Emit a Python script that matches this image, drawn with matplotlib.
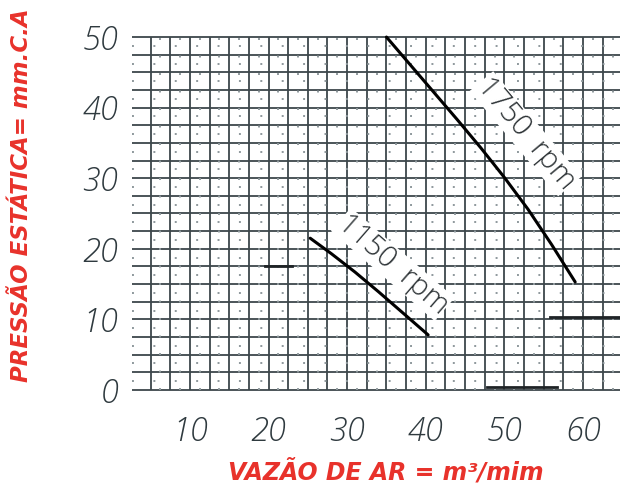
import numpy as np
import matplotlib
matplotlib.use("Agg")
import matplotlib.pyplot as plt
import matplotlib.ticker as tick

# fan curves: static pressure (mm.C.A) vs air flow (m3/min)
vazao_1750 = [35.0, 38.0, 41.0, 44.0, 47.0, 50.0, 53.0, 56.0, 59.0]
pressao_1750 = [50.0, 46.1, 42.2, 38.3, 34.3, 30.1, 25.6, 20.6, 15.3]
vazao_1150 = [25.3, 28.0, 31.0, 34.0, 37.0, 40.3]
pressao_1150 = [21.5, 19.3, 16.7, 13.9, 11.0, 7.8]

# heavy reference segments on the chart paper: (x0, x1, y)
segmentos = [(55.8, 64.7, 10.3), (19.5, 23.0, 17.6), (47.8, 56.7, 0.4)]

xticks = [10, 20, 30, 40, 50, 60]
yticks = [0, 10, 20, 30, 40, 50]

tick_font = dict(family="Open Sans", style="italic", weight="light",
                 size=23.5, color="#2f3a3f")
red = "#e8322b"

fig = plt.figure(figsize=(6.2, 4.86), dpi=100)
ax = fig.add_axes([0.2137, 0.1831, 0.7863, 0.7552])
ax.set_xlim(2.7, 64.7)
ax.set_ylim(-1, 51)

# chart paper: solid lines every 2.5, sparse dots in between
gx = np.arange(5, 65, 2.5)
gy = np.arange(0, 50.1, 2.5)
ax.vlines(gx, 0, 50, color="#3d474b", lw=1.3, zorder=1)
ax.hlines(gy, 2.7, 64.7, color="#3d474b", lw=1.3, zorder=1)
ax.vlines(gx + 1.25, 0, 50, color="#8e989c", lw=1.4,
          linestyles=(0, (1, 8)), zorder=1)
ax.hlines(gy[:-1] + 1.25, 2.7, 64.7, color="#8e989c", lw=1.4,
          linestyles=(0, (1, 10)), zorder=1)

for x0, x1, y in segmentos:
    ax.plot([x0, x1], [y, y], color="#1e2326", lw=2.0, zorder=2)

ax.plot(vazao_1750, pressao_1750, color="black", lw=2.2, zorder=3,
        solid_capstyle="round")
ax.plot(vazao_1150, pressao_1150, color="black", lw=2.2, zorder=3,
        solid_capstyle="round")

lbl = dict(family="Open Sans", weight="light", fontsize=21, color="#2a3033",
           ha="center", va="center", rotation_mode="anchor", zorder=4,
           bbox=dict(facecolor="white", edgecolor="none", pad=0.5))
ax.text(52.7, 36.3, "1750  rpm", rotation=-50, **lbl)
ax.text(35.8, 17.8, "1150  rpm", rotation=-41, **lbl)

for s in ax.spines.values():
    s.set_visible(False)
ax.xaxis.set_major_locator(tick.FixedLocator(xticks))
ax.yaxis.set_major_locator(tick.FixedLocator(yticks))
ax.tick_params(length=0)
ax.tick_params(axis="x", pad=13)
ax.tick_params(axis="y", pad=10)
ax.set_xticklabels([str(v) for v in xticks], fontdict=tick_font)
ax.set_yticklabels([str(v) for v in yticks], fontdict=tick_font)

fig.text(0.623, 0.029, "VAZÃO DE AR = m³/mim", color=red, fontsize=17,
         fontweight="heavy", style="italic", ha="center", va="center")
fig.text(0.035, 0.599, "PRESSÃO ESTÁTICA= mm.C.A", color=red, fontsize=16.5,
         fontweight="heavy", style="italic", ha="center", va="center",
         rotation=90)

fig.savefig("out.png", dpi=100)
